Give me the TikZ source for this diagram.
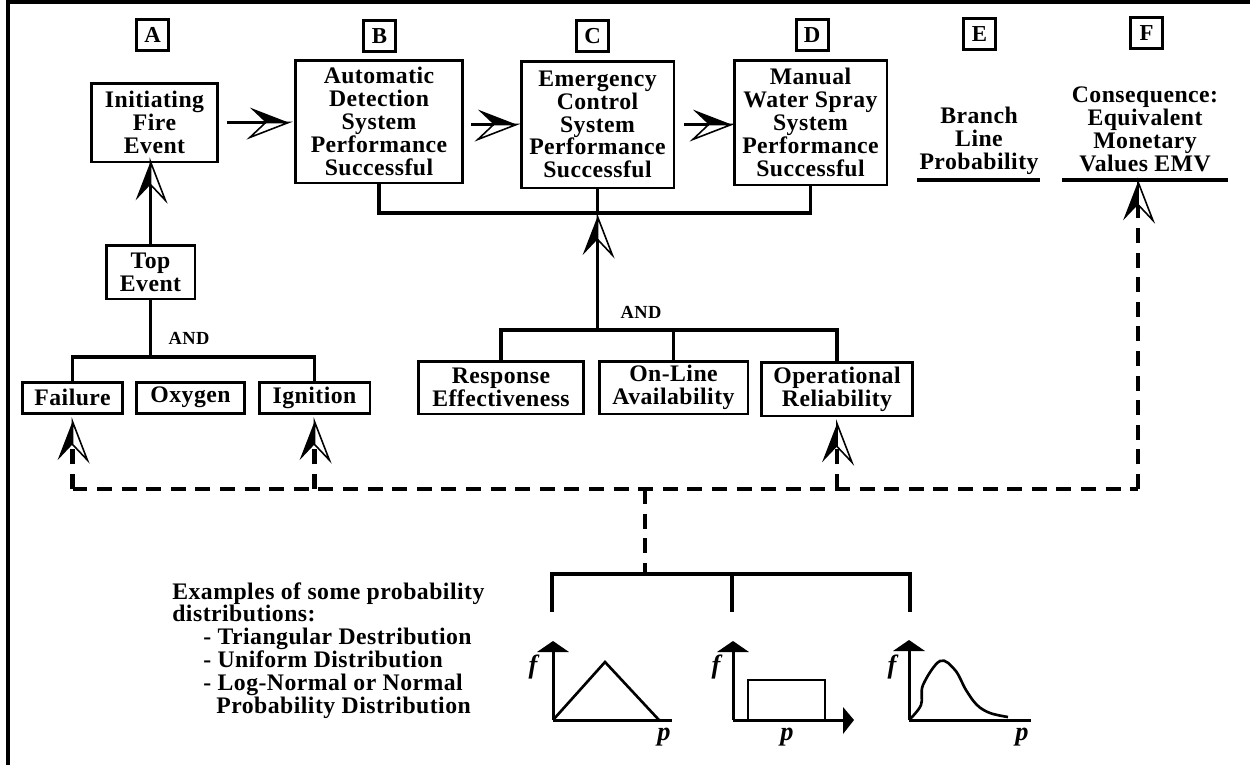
\documentclass[tikz,border=0pt]{standalone}
\usepackage{fontspec}
\setmainfont{Liberation Serif}[LetterSpace=2]
\usetikzlibrary{calc}
\pgfdeclarearrow{
  name = HalfOpen,
  setup code = {
    \pgfarrowssettipend{0pt}
    \pgfarrowssetlineend{-13pt}
    \pgfarrowssetbackend{-22pt}
    \pgfarrowshullpoint{0pt}{0pt}
    \pgfarrowsupperhullpoint{-22pt}{8.5pt}
    \pgfarrowshullpoint{-13pt}{0pt}
  },
  drawing code = {
    \pgfsetdash{}{0pt}
    \pgfsetmiterjoin
    \pgfpathmoveto{\pgfqpoint{0pt}{0pt}}
    \pgfpathlineto{\pgfqpoint{-22pt}{8.5pt}}
    \pgfpathlineto{\pgfqpoint{-13pt}{0pt}}
    \pgfpathclose
    \pgfusepathqfill
    \pgfsetlinewidth{0.9pt}
    \pgfpathmoveto{\pgfqpoint{0pt}{0pt}}
    \pgfpathlineto{\pgfqpoint{-22pt}{-8.5pt}}
    \pgfpathlineto{\pgfqpoint{-13pt}{0pt}}
    \pgfpathclose
    \pgfusepathqstroke
  }
}
\newcommand\bfx{\fontsize{13.5}{13}\selectfont\bfseries}
\newcommand\bfs{\fontsize{10.5}{11}\selectfont\bfseries}
\newcommand\bfi{\fontsize{15}{15}\selectfont\bfseries\itshape}
\begin{document}
\begin{tikzpicture}[x=0.02cm,y=-0.02cm,
  box/.style={draw, line width=1.7pt, inner sep=0pt, align=center, font=\bfx},
  lbl/.style={draw, line width=1.7pt, inner sep=0pt, minimum width=0.64cm, minimum height=0.62cm, font=\fontsize{13}{13}\selectfont\bfseries},
  txt/.style={inner sep=0pt, align=center, font=\bfx},
  conn/.style={line width=2pt},
  dsh/.style={line width=2.6pt, dash pattern=on 8.5pt off 5.5pt},
  axis/.style={line width=1.7pt},
  harr/.style={-HalfOpen}]
\useasboundingbox (0,0) rectangle (1250,765);
% frame (top and left only)
\draw[line width=2.2pt] (8,765) -- (8,2) -- (1250,2);

% letter labels
\node[lbl] (lA) at (152.5,35) {A};
\node[lbl] (lB) at (379.5,36) {B};
\node[lbl] (lC) at (592.5,36) {C};
\node[lbl] (lD) at (812,35) {D};
\node[lbl] (lE) at (979.5,34) {E};
\node[lbl] (lF) at (1146.5,33) {F};

% top row boxes
\node[box, minimum width=2.54cm, minimum height=1.58cm] (init) at (154.5,122.5) {Initiating\\Fire\\Event};
\node[box, minimum width=3.36cm, minimum height=2.46cm] (B) at (379,121.5) {Automatic\\Detection\\System\\Performance\\Successful};
\node[box, minimum width=3.06cm, minimum height=2.54cm] (C) at (597.5,124.5) {Emergency\\Control\\System\\Performance\\Successful};
\node[box, minimum width=3.06cm, minimum height=2.50cm] (D) at (810.5,122.5) {Manual\\Water Spray\\System\\Performance\\Successful};

\node[txt] (Et) at (979,141) {Branch\\Line\\Probability};
\node[txt] (Ft) at (1145,129.5) {Consequence:\\Equivalent\\Monetary\\Values EMV};
\coordinate (Eu1) at (917,180);
\coordinate (Eu2) at (1040,180);
\coordinate (Fu1) at (1062,180);
\coordinate (Fu2) at (1228,180);
\draw[conn] (Eu1) -- (Eu2);
\draw[conn] (Fu1) -- (Fu2);

% arrows between top boxes
\draw[conn,harr] ([xshift=0.16cm]init.east) -- ([xshift=-0.1cm]init.east -| B.west);
\draw[conn,harr] ([xshift=0.14cm]B.east |- C.west) -- ([xshift=-0.06cm]C.west);
\draw[conn,harr] ([xshift=0.18cm]C.east) -- ([xshift=-0.02cm]C.east -| D.west);

% bracket under B C D
\coordinate (bcd) at (597.5,213);
\draw[conn] (B.south) |- (bcd) -| (D.south);
\draw[conn] (C.south) -- (bcd);

% fault tree left
\node[box, minimum width=1.78cm, minimum height=1.08cm] (top) at (150.5,272) {Top\\Event};
\draw[conn,harr,shorten >=-1pt] (top.north) -- (top.north |- init.south);
\node[box, minimum width=2.02cm, minimum height=0.62cm] (fail) at (72.5,397.5) {Failure};
\node[box, minimum width=2.18cm, minimum height=0.62cm] (oxy) at (190.5,397.5) {Oxygen};
\node[box, minimum width=2.22cm, minimum height=0.62cm] (ign) at (314.5,397.5) {Ignition};
\coordinate (andL) at (150.5,357);
\draw[conn] (top.south) -- (andL);
\draw[conn] (fail.north) |- (andL) -| (ign.north);
\node[font=\bfs, inner sep=0pt] (andLt) at (189,338) {AND};

% AND gate middle
\node[box, minimum width=3.32cm, minimum height=1.06cm] (resp) at (501,387.5) {Response\\Effectiveness};
\node[box, minimum width=2.98cm, minimum height=1.06cm] (onl) at (673.5,387.5) {On-Line\\Availability};
\node[box, minimum width=3.02cm, minimum height=1.08cm] (oper) at (837,389) {Operational\\Reliability};
\coordinate (andR) at (597.5,330);
\draw[conn] (resp.north) |- (andR) -| (oper.north);
\draw[conn] (onl.north) -- (onl.north |- andR);
\draw[conn,harr,shorten >=2pt] (andR) -- (bcd);
\node[font=\bfs, inner sep=0pt] (andRt) at (641,312) {AND};

% dashed feedback network
\coordinate (dL) at (72.5,489);
\coordinate (dR) at (1138,489);
\coordinate (dj) at (645,489);
\coordinate (Fa) at (1138,180);
\draw[dsh] (dL) -- (dR);
\draw[dsh,harr,shorten >=4pt] (dL) -- (fail.south);
\draw[dsh,harr,shorten >=4pt] (ign.south |- dL) -- (ign.south);
\draw[dsh,harr,shorten >=3.5pt] (oper.south |- dL) -- (oper.south);
\draw[dsh,harr,shorten >=1pt] (dR) -- (Fa);

% distribution bracket
\coordinate (pj) at (645,574);
\coordinate (p1) at (552,612);
\coordinate (p2) at (732,612);
\coordinate (p3) at (910,612);
\draw[dsh] (dj) -- (pj);
\draw[conn] (p1) |- (pj) -| (p3);
\draw[conn] (p2) -- (p2 |- pj);

% plot 1: triangular
\draw[axis] (553,720) -- (553,650);
\fill (537,652) -- (553,641) -- (569,652) -- cycle;
\draw[axis] (553,720) -- (672,720);
\draw[line width=1.5pt, line join=miter] (553,720) -- (605,662) -- (659,720);
\node[font=\bfi, inner sep=0pt] (f1) at (533,667) {f};
\node[font=\bfi, inner sep=0pt] (pp1) at (664,737) {p};

% plot 2: uniform
\draw[axis] (733,720) -- (733,650);
\fill (717,652) -- (733,641) -- (749,652) -- cycle;
\draw[axis] (733,720) -- (845,720);
\fill (843,707) -- (854,720) -- (843,734) -- cycle;
\draw[line width=1.5pt] (748,720) -- (748,680) -- (825,680) -- (825,720);
\node[font=\bfi, inner sep=0pt] (f2) at (716,667) {f};
\node[font=\bfi, inner sep=0pt] (pp2) at (787,737) {p};

% plot 3: log-normal
\draw[axis] (909,720) -- (909,650);
\fill (893,651) -- (909,640) -- (925,651) -- cycle;
\draw[axis] (909,720) -- (1031,720);
\draw[line width=1.5pt] plot[smooth, tension=0.6] coordinates {(909,720) (921,705) (923,685) (940,661) (955,670) (966,690) (977,705) (990,713) (1008,717)};
\node[font=\bfi, inner sep=0pt] (f3) at (892,667) {f};
\node[font=\bfi, inner sep=0pt] (pp3) at (1022,737) {p};

% examples text
\node[font=\bfx, inner sep=0pt, align=left, anchor=north west] (ex) at (172,582)
 {Examples of some probability\\
  distributions:\\
  \hspace*{0.62cm}- Triangular Destribution\\
  \hspace*{0.62cm}- Uniform Distribution\\
  \hspace*{0.62cm}- Log-Normal or Normal\\
  \hspace*{0.88cm}Probability Distribution};
\end{tikzpicture}
\end{document}
